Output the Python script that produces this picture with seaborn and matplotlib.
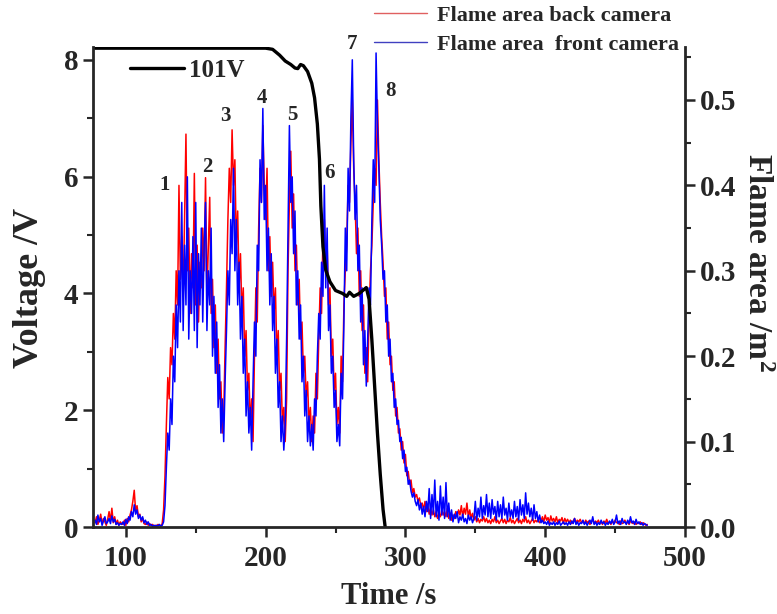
import numpy as np
import pandas as pd
import matplotlib
matplotlib.use("Agg")
import matplotlib.pyplot as plt
import seaborn as sns
from matplotlib.ticker import MultipleLocator, FormatStrFormatter
from matplotlib.lines import Line2D

# ---------------- data ----------------
# Flame area sampled every 1 s starting at t = 78 s, values in 1e-3 m^2
t_start = 78
area_back_milli = [
    5, 12, 3, 8, 15, 4, 10, 6, 2, 9,            # 78-87
    18, 7, 22, 5, 12, 3, 8, 2, 6, 4,            # 88-97
    3, 8, 2, 10, 6, 14, 20, 30, 43, 18,         # 98-107
    25, 12, 15, 6, 10, 4, 3, 6, 2, 4,           # 108-117
    2, 3, 1, 2, 1, 3, 2, 1, 4, 20,              # 118-127
    60, 120, 175, 150, 210, 190, 250, 220, 300, 260,   # 128-137
    400, 290, 340, 270, 360, 460, 300, 350, 250, 320,  # 138-147
    280, 414, 260, 330, 240, 310, 280, 350, 300, 409,  # 148-157
    270, 330, 386, 250, 290, 210, 260, 180, 220, 150,  # 158-167
    170, 110, 130, 210, 280, 360, 420, 380, 465, 400,  # 168-177
    430, 330, 370, 280, 320, 250, 280, 200, 230, 160,  # 178-187
    180, 120, 150, 100, 200, 280, 240, 350, 420, 380,  # 188-197
    470, 400, 360, 420, 300, 340, 270, 310, 250, 280,  # 198-207
    200, 230, 160, 180, 120, 140, 100, 150, 300, 380,  # 208-217
    440, 350, 390, 300, 330, 260, 290, 220, 240, 180,  # 218-227
    200, 150, 170, 120, 140, 100, 130, 110, 180, 150,  # 228-237
    220, 280, 250, 340, 360, 300, 330, 260, 280, 200,  # 238-247
    220, 160, 180, 120, 140, 110, 200, 170, 260, 300,  # 248-257
    330, 400, 380, 450, 500, 420, 380, 320, 350, 270,  # 258-267
    300, 230, 260, 180, 210, 170, 250, 300, 330, 380,  # 268-277
    420, 400, 500, 430, 380, 340, 310, 270, 280, 220,  # 278-287
    240, 190, 200, 160, 170, 130, 140, 110, 115, 90,   # 288-297
    100, 75, 85, 60, 65, 50, 55, 40, 45, 35,           # 298-307
    38, 30, 34, 25, 28, 20, 30, 18, 25, 15,            # 308-317
    22, 14, 20, 12, 18, 10, 16, 12, 20, 14,            # 318-327
    18, 12, 22, 10, 16, 8, 14, 10, 18, 12,             # 328-337
    20, 14, 25, 12, 22, 15, 28, 12, 20, 10,            # 338-347
    16, 8, 12, 6, 10, 5, 9, 7, 12, 6,                  # 348-357
    10, 5, 8, 4, 9, 6, 12, 5, 8, 4,                    # 358-367
    7, 10, 5, 9, 4, 8, 6, 11, 5, 8,                    # 368-377
    4, 7, 10, 5, 8, 4, 9, 6, 12, 5,                    # 378-387
    8, 4, 7, 10, 5, 8, 6, 9, 5, 7,                     # 388-397
    12, 6, 14, 8, 11, 5, 13, 7, 10, 6,                 # 398-407
    12, 5, 9, 7, 11, 4, 10, 6, 9, 5,                   # 408-417
    8, 4, 7, 10, 5, 8, 6, 9, 5, 7,                     # 418-427
    4, 8, 5, 7, 3, 6, 9, 4, 7, 5,                      # 428-437
    8, 4, 6, 3, 7, 5, 9, 4, 6, 3,                      # 438-447
    7, 4, 8, 5, 6, 3, 7, 4, 5, 8,                      # 448-457
    4, 6, 3, 7, 5, 4, 6, 3, 5, 4,                      # 458-467
    6, 3, 5, 4, 2, 3,                                  # 468-473
]
area_front_milli = [
    8, 3, 14, 6, 10, 2, 7, 12, 4, 6,            # 78-87
    10, 4, 13, 6, 9, 3, 5, 2, 4, 3,             # 88-97
    6, 2, 9, 4, 12, 8, 18, 12, 26, 15,          # 98-107
    20, 10, 14, 8, 12, 5, 8, 3, 6, 2,           # 108-117
    3, 1, 2, 1, 2, 1, 3, 1, 2, 6,               # 118-127
    25, 70, 110, 90, 150, 120, 200, 170, 260, 210,     # 128-137
    300, 240, 380, 230, 330, 260, 410, 220, 300, 250,  # 138-147
    340, 230, 380, 210, 320, 260, 350, 240, 330, 380,  # 148-157
    230, 300, 260, 350, 200, 270, 180, 240, 140, 190,  # 158-167
    110, 150, 100, 170, 230, 300, 260, 360, 320, 420,  # 168-177
    300, 360, 260, 310, 220, 270, 180, 220, 130, 170,  # 178-187
    110, 140, 90, 170, 240, 200, 330, 300, 430, 380,   # 188-197
    490, 360, 400, 300, 350, 260, 320, 230, 270, 180,  # 198-207
    220, 140, 170, 100, 130, 90, 120, 220, 350, 470,   # 208-217
    380, 410, 320, 370, 260, 300, 220, 260, 170, 200,  # 218-227
    130, 160, 100, 130, 95, 120, 90, 150, 130, 200,    # 228-237
    250, 220, 310, 270, 400, 280, 350, 230, 260, 180,  # 238-247
    200, 140, 160, 100, 120, 95, 180, 150, 240, 350,   # 248-257
    300, 420, 370, 480, 547, 430, 360, 400, 300, 330,  # 258-267
    240, 280, 190, 230, 165, 220, 280, 260, 360, 430,  # 268-277
    380, 555, 470, 420, 360, 330, 290, 300, 240, 260,  # 278-287
    200, 220, 170, 180, 140, 150, 120, 125, 100, 105,  # 288-297
    80, 90, 65, 70, 50, 55, 42, 35, 40, 30,            # 298-307
    25, 32, 20, 28, 15, 24, 12, 30, 18, 45,            # 308-317
    10, 38, 15, 55, 12, 30, 8, 48, 14, 35,             # 318-327
    10, 52, 12, 28, 8, 20, 6, 15, 10, 18,              # 328-337
    5, 12, 8, 15, 6, 10, 4, 14, 8, 12,                 # 338-347
    5, 10, 30, 8, 22, 12, 35, 10, 25, 14,              # 348-357
    38, 12, 28, 10, 32, 15, 24, 8, 30, 12,             # 358-367
    26, 10, 35, 14, 22, 8, 28, 12, 20, 10,             # 368-377
    30, 12, 24, 8, 32, 14, 26, 10, 40, 15,             # 378-387
    28, 12, 22, 8, 26, 10, 18, 6, 14, 5,               # 388-397
    8, 4, 6, 3, 7, 2, 5, 3, 6, 2,                      # 398-407
    5, 3, 7, 2, 4, 6, 3, 5, 2, 6,                      # 408-417
    3, 7, 4, 10, 3, 6, 2, 5, 4, 8,                     # 418-427
    3, 6, 2, 5, 8, 4, 12, 3, 6, 2,                     # 428-437
    5, 3, 8, 4, 6, 2, 5, 3, 7, 4,                      # 438-447
    9, 3, 6, 14, 4, 7, 3, 10, 5, 6,                    # 448-457
    3, 8, 4, 12, 5, 7, 3, 9, 4, 6,                     # 458-467
    3, 5, 2, 4, 3, 2,                                  # 468-473
]

# 101V voltage trace (time s, voltage V)
volt_time = [78, 200, 205, 210, 214, 218, 221, 223, 225, 227, 230, 233, 235,
             237, 238.5, 239.5, 241, 243, 246, 250, 255, 258, 260, 263, 267,
             272, 274, 276, 278, 280, 282, 284, 285.5]
volt_value = [8.2, 8.2, 8.18, 8.08, 7.98, 7.92, 7.86, 7.85, 7.92, 7.9, 7.8, 7.6, 7.35,
              6.9, 6.3, 5.5, 4.8, 4.4, 4.2, 4.05, 4.0, 3.95, 4.02, 3.95, 4.0,
              4.1, 3.9, 3.2, 2.4, 1.6, 0.9, 0.3, 0.0]

# peak labels (time s, flame-area position m^2)
peak_labels = ["1", "2", "3", "4", "5", "6", "7", "8"]
peak_time = [127.8, 158.4, 171.3, 197.0, 219.0, 245.4, 261.8, 289.6]
peak_area = [0.400, 0.421, 0.481, 0.502, 0.482, 0.415, 0.566, 0.511]

x_ticks = [100, 200, 300, 400, 500]
v_ticks = [0, 2, 4, 6, 8]
a_ticks = [0.0, 0.1, 0.2, 0.3, 0.4, 0.5]

# ---------------- build frames ----------------
back = pd.DataFrame({"t": t_start + np.arange(len(area_back_milli)),
                     "a": np.array(area_back_milli) / 1000.0})
front = pd.DataFrame({"t": t_start + np.arange(len(area_front_milli)),
                      "a": np.array(area_front_milli) / 1000.0})
volt = pd.DataFrame({"t": volt_time, "v": volt_value})

# ---------------- style ----------------
sns.set_style("ticks")
plt.rcParams["font.family"] = ["Liberation Serif", "DejaVu Serif"]
plt.rcParams["font.weight"] = "bold"
plt.rcParams["axes.labelweight"] = "bold"
plt.rcParams["mathtext.fontset"] = "custom"
plt.rcParams["mathtext.rm"] = "Liberation Serif:bold"
plt.rcParams["mathtext.it"] = "Liberation Serif:bold"
plt.rcParams["mathtext.bf"] = "Liberation Serif:bold"

fig = plt.figure(figsize=(7.77, 6.14), dpi=100)
ax = fig.add_axes([93 / 777, 1 - 527 / 614, (685 - 93) / 777, (527 - 47) / 614])
ax2 = ax.twinx()

# flame areas on the right axis
sns.lineplot(data=back, x="t", y="a", ax=ax2, color="#ff0000", lw=1.1,
             sort=False, estimator=None, legend=False)
sns.lineplot(data=front, x="t", y="a", ax=ax2, color="#0000ff", lw=1.1,
             sort=False, estimator=None, legend=False)

# voltage on the left axis, drawn on top
sns.lineplot(data=volt, x="t", y="v", ax=ax, color="black", lw=2.4,
             sort=False, estimator=None, legend=False)
ax.set_zorder(ax2.get_zorder() + 1)
ax.patch.set_visible(False)

# limits & ticks
ax.set_xlim(76.5, 500)
ax.set_ylim(0, 8.22)
ax2.set_ylim(0, 0.562)
ax.set_xticks(x_ticks)
ax.set_yticks(v_ticks)
ax2.set_yticks(a_ticks)
ax.xaxis.set_minor_locator(MultipleLocator(50))
ax.yaxis.set_minor_locator(MultipleLocator(1))
ax2.yaxis.set_minor_locator(MultipleLocator(0.05))
ax2.yaxis.set_major_formatter(FormatStrFormatter("%.1f"))

for a in (ax, ax2):
    a.tick_params(which="major", direction="out", length=7, width=1.8,
                  labelsize=21, pad=3.5)
    a.tick_params(which="minor", direction="out", length=4, width=1.5)
    for s in a.spines.values():
        s.set_linewidth(2.0)
    a.spines["top"].set_visible(False)
ax.tick_params(axis="x", which="major", pad=6)
ax.spines["right"].set_visible(False)
ax2.spines["left"].set_visible(False)
ax2.spines["bottom"].set_visible(False)
for lab in ax.get_xticklabels() + ax.get_yticklabels() + ax2.get_yticklabels():
    lab.set_fontweight("bold")

ax.set_xlabel("Time /s", fontsize=22, fontweight="bold", va="center", ha="center")
ax.xaxis.set_label_coords(0.5, (527 - 597) / 480)
ax.set_ylabel("Voltage /V", fontsize=26, fontweight="bold", va="center", ha="center")
ax.yaxis.set_label_coords((30 - 93) / 592, (527 - 288) / 480)
ax2.set_ylabel("Flame area /m$^2$", fontsize=24, fontweight="bold",
               rotation=270, va="center", ha="center")
ax2.yaxis.set_label_coords((756 - 93) / 592, (527 - 262) / 480)

# peak numbers
for lab, tx, ay in zip(peak_labels, peak_time, peak_area):
    ax2.text(tx, ay, lab, fontsize=15, fontweight="bold", ha="center",
             va="center", clip_on=False, zorder=5)

# legends
h_v = [Line2D([], [], color="black", lw=2.4)]
ax.legend(h_v, ["101V"], loc="upper left",
          bbox_to_anchor=(130 / 777, 1 - 59 / 614), bbox_transform=fig.transFigure,
          frameon=False, fontsize=18, handlelength=2.15, handletextpad=0.22,
          borderpad=0, borderaxespad=0)
h_f = [Line2D([], [], color="#e06060", lw=1.0), Line2D([], [], color="#4040c0", lw=1.0)]
fig.legend(h_f, ["Flame area back camera", "Flame area  front camera"],
           loc="upper left", bbox_to_anchor=(374 / 777, 1 - 5 / 614),
           frameon=False, fontsize=16, handlelength=2.4, handletextpad=0.45,
           labelspacing=0.4, borderpad=0, borderaxespad=0)

fig.savefig("out.png", dpi=100)
